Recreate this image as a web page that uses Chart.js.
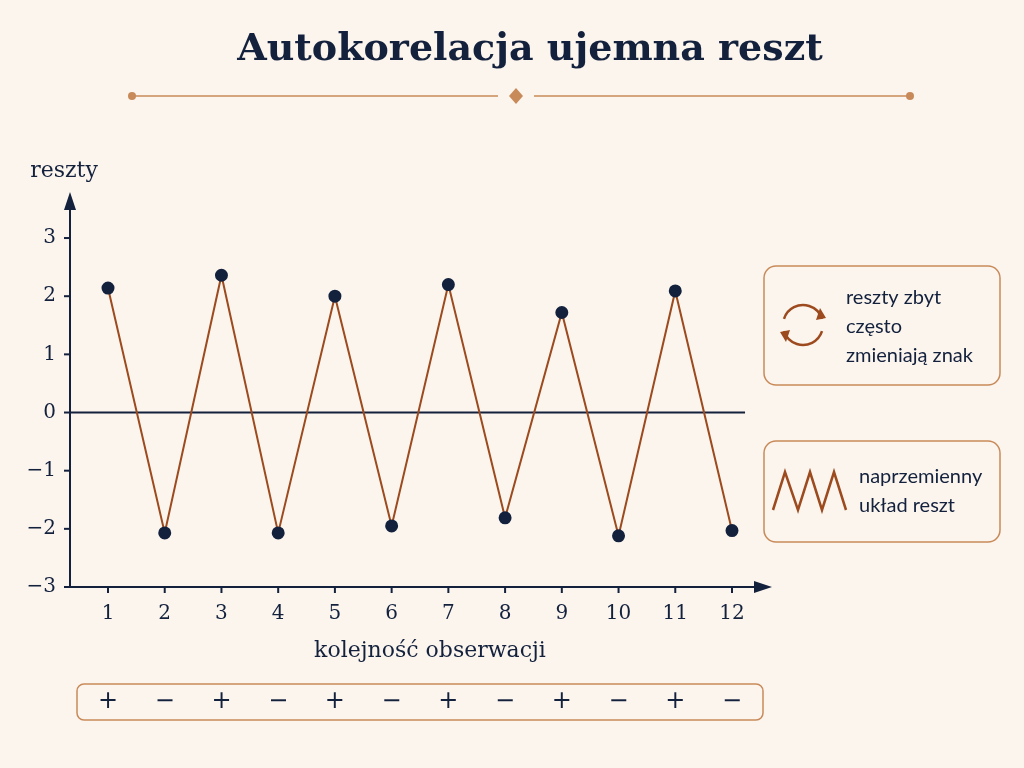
<!DOCTYPE html>
<html><head><meta charset="utf-8">
<script src="https://cdn.jsdelivr.net/npm/chart.js@4/dist/chart.umd.min.js"></script>
<style>html,body{margin:0;padding:0;background:#fbf5ee}#w{width:1024px;height:768px}</style>
</head><body><div id="w"><canvas id="c" width="1024" height="768"></canvas></div>
<script>
const observations = [1,2,3,4,5,6,7,8,9,10,11,12];
const residuals = [2.14,-2.07,2.36,-2.07,2.0,-1.95,2.2,-1.81,1.72,-2.12,2.09,-2.03];
const yTicks = [3,2,1,0,-1,-2,-3];
const signs = residuals.map(v => v >= 0 ? '+' : '−');
const title = 'Autokorelacja ujemna reszt';
const yLabel = 'reszty';
const xLabel = 'kolejność obserwacji';
const note1 = ['reszty zbyt','często','zmieniają znak'];
const note2 = ['naprzemienny','układ reszt'];

const NAVY='#14213d', RUST='#9c4a1e', BOX='#c98a5a', BG='#fbf5ee';
function rr(ctx,x,y,w,h,r){ctx.beginPath();ctx.moveTo(x+r,y);ctx.arcTo(x+w,y,x+w,y+h,r);ctx.arcTo(x+w,y+h,x,y+h,r);ctx.arcTo(x,y+h,x,y,r);ctx.arcTo(x,y,x+w,y,r);ctx.closePath();}
const deco = {
  id:'deco',
  beforeDraw(ch){const c=ch.ctx;c.save();c.fillStyle=BG;c.fillRect(0,0,ch.width,ch.height);
    const xs=ch.scales.x, ys=ch.scales.y;
    c.fillStyle=NAVY;c.font='bold 38px "DejaVu Serif", serif';c.textAlign='center';c.textBaseline='middle';
    c.fillText(title,530,50);
    c.strokeStyle=BOX;c.fillStyle=BOX;c.lineWidth=1.5;
    c.beginPath();c.moveTo(132,96);c.lineTo(498,96);c.moveTo(534,96);c.lineTo(910,96);c.stroke();
    [132,910].forEach(x=>{c.beginPath();c.arc(x,96,4,0,7);c.fill();});
    c.beginPath();c.moveTo(516,88);c.lineTo(523,96);c.lineTo(516,104);c.lineTo(509,96);c.closePath();c.fill();
    const x0=xs.getPixelForValue(xs.min), y0=ys.getPixelForValue(-3);
    c.strokeStyle=NAVY;c.fillStyle=NAVY;c.lineWidth=2;
    c.beginPath();c.moveTo(x0,y0);c.lineTo(x0,200);c.moveTo(x0,y0);c.lineTo(765,y0);c.stroke();
    c.beginPath();c.moveTo(x0,192);c.lineTo(x0-6,210);c.lineTo(x0+6,210);c.closePath();c.fill();
    c.beginPath();c.moveTo(772,y0);c.lineTo(754,y0-6);c.lineTo(754,y0+6);c.closePath();c.fill();
    const yz=ys.getPixelForValue(0);
    c.beginPath();c.moveTo(x0,yz);c.lineTo(xs.getPixelForValue(12.23),yz);c.stroke();
    c.font='20px "DejaVu Serif", serif';c.textAlign='right';c.textBaseline='middle';
    yTicks.forEach(t=>{const y=ys.getPixelForValue(t);c.beginPath();c.moveTo(x0-6,y);c.lineTo(x0,y);c.stroke();
      c.fillText(t<0?'−'+(-t):String(t),x0-14,y);});
    c.textAlign='center';c.textBaseline='top';
    observations.forEach(o=>{const x=xs.getPixelForValue(o);c.beginPath();c.moveTo(x,y0);c.lineTo(x,y0+6);c.stroke();c.fillText(String(o),x,y0+17);});
    c.font='22px "DejaVu Serif", serif';
    c.textBaseline='middle';c.fillText(yLabel,64,171);
    c.fillText(xLabel,430,651);
    c.strokeStyle=BOX;c.lineWidth=1.5;rr(c,77,684,686,36,7);c.stroke();
    c.fillStyle=NAVY;c.font='24px "DejaVu Sans", sans-serif';
    observations.forEach((o,i)=>c.fillText(signs[i],xs.getPixelForValue(o),702));
    rr(c,764,266,236,119,12);c.stroke();rr(c,764,441,236,101,12);c.stroke();
    c.font='20px Lato, sans-serif';c.textAlign='left';
    note1.forEach((t,i)=>c.fillText(t,846,298+i*29));
    note2.forEach((t,i)=>c.fillText(t,859,477+i*29));
    c.strokeStyle=RUST;c.fillStyle=RUST;c.lineWidth=2.5;
    c.beginPath();c.arc(803,325,20,Math.PI*1.1,Math.PI*1.9);c.stroke();
    c.beginPath();c.arc(803,325,20,Math.PI*0.1,Math.PI*0.9);c.stroke();
    c.beginPath();c.moveTo(826,318);c.lineTo(820,308);c.lineTo(816,320);c.closePath();c.fill();
    c.beginPath();c.moveTo(780,332);c.lineTo(786,342);c.lineTo(790,330);c.closePath();c.fill();
    c.beginPath();c.moveTo(773,510);c.lineTo(785,472);c.lineTo(798,510);c.lineTo(810,472);c.lineTo(822,510);c.lineTo(834,472);c.lineTo(846,510);c.stroke();
    c.restore();}
};
new Chart(document.getElementById('c'),{
  type:'line',
  data:{datasets:[{data:observations.map((o,i)=>({x:o,y:residuals[i]})),borderColor:RUST,borderWidth:2,
    pointBackgroundColor:NAVY,pointBorderColor:NAVY,pointRadius:5.5,tension:0}]},
  options:{responsive:false,animation:false,devicePixelRatio:1,
    layout:{padding:{left:70,right:254,top:195,bottom:181}},
    plugins:{legend:{display:false},tooltip:{enabled:false}},
    scales:{x:{type:'linear',min:0.33,max:12.67,display:false},y:{min:-3,max:3.74,display:false}}},
  plugins:[deco]
});
</script></body></html>
